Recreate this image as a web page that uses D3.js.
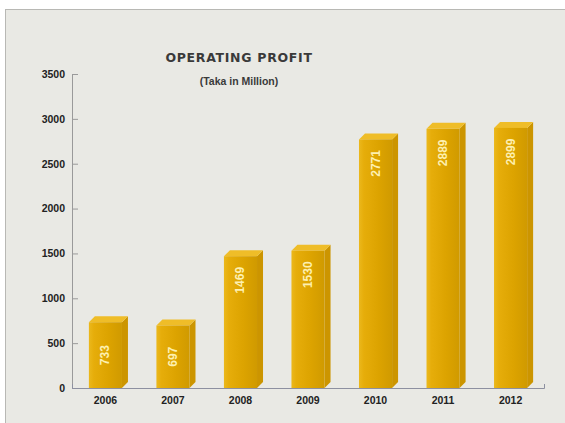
<!DOCTYPE html>
<html>
<head>
<meta charset="utf-8">
<script src="https://cdn.jsdelivr.net/npm/d3@7/dist/d3.min.js"></script>
<style>
  html, body { margin: 0; padding: 0; background: #ffffff; }
  svg { display: block; }
</style>
</head>
<body>
<svg id="chart" width="565" height="423"></svg>
<script>
// Operating profit by year (Taka in Million)
const years = ["2006", "2007", "2008", "2009", "2010", "2011", "2012"];
const profit = [733, 697, 1469, 1530, 2771, 2889, 2899];
const yTicks = [0, 500, 1000, 1500, 2000, 2500, 3000, 3500];
const titleText = "OPERATING PROFIT";
const subtitleText = "(Taka in Million)";

const svg = d3.select("#chart");
const W = 565, H = 423;

// framed panel
svg.append("rect")
  .attr("x", 5.5).attr("y", 9.5)
  .attr("width", W).attr("height", H)
  .attr("fill", "#e9e9e4")
  .attr("stroke", "#b8b8b4").attr("stroke-width", 1);

const plotBase = 388, plotTop = 74;
const y = d3.scaleLinear().domain([0, 3500]).range([plotBase, plotTop]);
const x = d3.scaleBand().domain(years).range([72, 544])
  .paddingInner(0.51).paddingOuter(0.25);

const defs = svg.append("defs");
const g1 = defs.append("linearGradient").attr("id", "front")
  .attr("x1", "0").attr("x2", "1").attr("y1", "0").attr("y2", "0");
g1.append("stop").attr("offset", "0").attr("stop-color", "#ebb81c");
g1.append("stop").attr("offset", "0.15").attr("stop-color", "#e6ad0a");
g1.append("stop").attr("offset", "0.6").attr("stop-color", "#dca300");
g1.append("stop").attr("offset", "1").attr("stop-color", "#d09a00");

// title block
svg.append("text")
  .attr("x", 239).attr("y", 62)
  .attr("text-anchor", "middle")
  .attr("font-family", "'DejaVu Sans', sans-serif")
  .attr("font-weight", "bold")
  .attr("font-size", 12.5)
  .attr("letter-spacing", 0.7)
  .attr("fill", "#3a3a3a")
  .text(titleText);
svg.append("text")
  .attr("x", 239).attr("y", 85)
  .attr("text-anchor", "middle")
  .attr("font-family", "'Liberation Sans Narrow', 'Liberation Sans', sans-serif")
  .attr("font-weight", "bold")
  .attr("font-size", 10.5)
  .attr("fill", "#3a3a3a")
  .text(subtitleText);

// y axis
const yAxis = svg.append("g")
  .attr("transform", "translate(72,0)")
  .call(d3.axisLeft(y).tickValues(yTicks).tickFormat(d3.format("d"))
    .tickSizeInner(-6).tickSizeOuter(0).tickPadding(7));
yAxis.select(".domain").attr("stroke", "#9a9a9a");
yAxis.selectAll(".tick line").attr("stroke", "#9a9a9a");
yAxis.selectAll(".tick text")
  .attr("font-family", "'Liberation Sans', sans-serif")
  .attr("font-weight", "bold")
  .attr("font-size", 10.5)
  .attr("fill", "#222");

// bars with a shallow 3D extrusion
const d = 6;
const bars = svg.append("g").selectAll("g").data(years).enter().append("g");
bars.each(function (yr, i) {
  const gb = d3.select(this);
  const x0 = x(yr), w = x.bandwidth(), yt = y(profit[i]);
  gb.append("path")
    .attr("d", `M${x0 + w},${yt} L${x0 + w + d},${yt - d} L${x0 + w + d},${plotBase - d} L${x0 + w},${plotBase} Z`)
    .attr("fill", "#cc9500");
  gb.append("path")
    .attr("d", `M${x0},${yt} L${x0 + d},${yt - d} L${x0 + w + d},${yt - d} L${x0 + w},${yt} Z`)
    .attr("fill", "#efbd28");
  gb.append("rect")
    .attr("x", x0).attr("y", yt)
    .attr("width", w).attr("height", plotBase - yt)
    .attr("fill", "url(#front)");
  // value label, rotated, near the top of tall bars and centred on short ones
  const h = plotBase - yt;
  const cy = h < 100 ? (yt + plotBase) / 2 : yt + 8 + 16;
  gb.append("text")
    .attr("transform", `translate(${x0 + w / 2 + 4},${cy}) rotate(-90)`)
    .attr("text-anchor", "middle")
    .attr("font-family", "'Liberation Sans', sans-serif")
    .attr("font-weight", "bold")
    .attr("font-size", 12)
    .attr("fill", "#fdf0b0")
    .text(profit[i]);
});

// x axis
const xAxis = svg.append("g")
  .attr("transform", `translate(0,${plotBase})`)
  .call(d3.axisBottom(x).tickSizeInner(0).tickSizeOuter(-4).tickPadding(9));
xAxis.select(".domain").attr("stroke", "#8d90a0");
xAxis.selectAll(".tick text")
  .attr("font-family", "'Liberation Sans', sans-serif")
  .attr("font-weight", "bold")
  .attr("font-size", 10.5)
  .attr("fill", "#222");
</script>
</body>
</html>
